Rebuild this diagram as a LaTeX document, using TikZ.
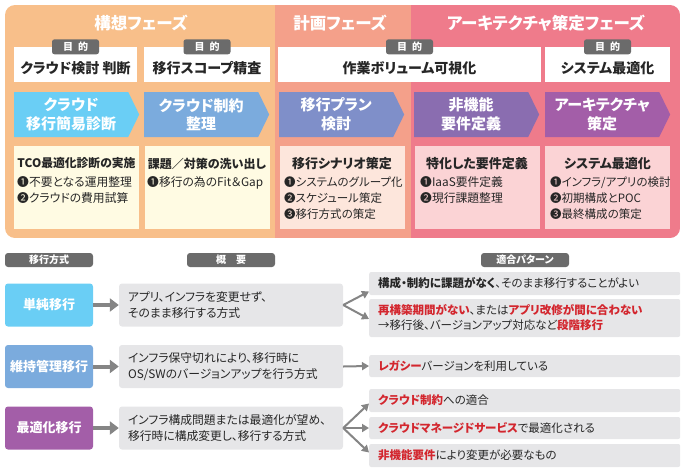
\documentclass[tikz,border=0pt]{standalone}
\usepackage{fontspec}
\setmainfont{Noto Sans CJK JP}[RawFeature=+palt]
\usetikzlibrary{arrows.meta, positioning, shapes.symbols}

\definecolor{kosoc}{HTML}{F8BF8A}
\definecolor{keikakuc}{HTML}{F4A08A}
\definecolor{archc}{HTML}{EF7B8B}
\definecolor{creamc}{HTML}{FFFBE3}
\definecolor{peachc}{HTML}{FDE6DC}
\definecolor{rosec}{HTML}{FBD3D5}
\definecolor{blue1}{HTML}{6ACEF5}
\definecolor{blue2}{HTML}{7BABDD}
\definecolor{blue3}{HTML}{7F8FC9}
\definecolor{violet4}{HTML}{8A6DB0}
\definecolor{violet5}{HTML}{A35EA8}
\definecolor{tagc}{HTML}{6B6B6B}
\definecolor{boxg}{HTML}{E6E6E8}
\definecolor{arrg}{HTML}{858585}
\definecolor{redc}{HTML}{D3262E}
\definecolor{inkc}{HTML}{262626}

\newcommand{\hlred}[1]{\textcolor{redc}{\bfseries #1}}

\begin{document}
\begin{tikzpicture}[x=1pt, y=-1pt,
    phase/.style={text=white, font=\fontsize{16.5}{18}\bfseries, inner sep=0pt},
    goal/.style={fill=white, minimum height=35pt, inner sep=0pt, text=inkc,
                 text height=17pt, text depth=0pt, font=\fontsize{14}{16}\bfseries},
    tag/.style={fill=tagc, rounded corners=2.5pt, minimum width=47pt, minimum height=15pt,
                inner sep=0pt, text=white, font=\fontsize{10}{12}\bfseries},
    chev/.style={signal, signal to=east, signal pointer angle=128, anchor=west,
                 minimum width=125pt, minimum height=45pt, inner sep=0pt,
                 text=white, align=center, font=\fontsize{15}{18.5}\bfseries},
    detail/.style={minimum width=125pt, minimum height=83pt, inner sep=0pt},
    dhead/.style={text=inkc, inner sep=0pt, font=\fontsize{13}{15}\bfseries},
    ditem/.style={text=inkc, inner sep=0pt, anchor=north west, align=left,
                  font=\fontsize{11.8}{16}\selectfont},
    head/.style={fill=tagc, rounded corners=3pt, minimum width=88pt, minimum height=14pt,
                 inner sep=0pt, text=white, font=\fontsize{10}{12}\bfseries},
    method/.style={rounded corners=3pt, minimum width=88pt, minimum height=43pt,
                   inner sep=0pt, text=white, font=\fontsize{13}{15}\bfseries},
    summ/.style={fill=boxg, rounded corners=3pt, minimum width=224pt, minimum height=43pt,
                 text width=206pt, inner xsep=9pt, inner ysep=0pt, align=left, text=inkc,
                 font=\fontsize{11.8}{15.5}\selectfont},
    pat/.style={fill=boxg, rounded corners=2pt, anchor=west, text width=293pt,
                inner xsep=9pt, inner ysep=0pt, align=left, text=inkc,
                font=\fontsize{11.5}{15}\selectfont},
    fat/.style={-{Triangle[length=9pt, width=13pt]}, draw=arrg, line width=4pt},
    arr/.style={-{Triangle[length=7pt, width=8pt]}, draw=arrg, line width=2pt}
]
\useasboundingbox (0,0) rectangle (684,471);

% Phase panel
\begin{scope}
\clip[rounded corners=10pt] (5,5) rectangle (680,238);
\fill[kosoc] (5,5) rectangle (275,238);
\fill[keikakuc] (275,5) rectangle (411,238);
\fill[archc] (411,5) rectangle (680,238);
\end{scope}

\node[phase] (ph1) at (141,23) {構想フェーズ};
\node[phase] (ph2) at (340,23) {計画フェーズ};
\node[phase] (ph3) at (546,23) {アーキテクチャ策定フェーズ};

% Goals
\node[goal, minimum width=123pt] (g1) at (75.5,64.5) {クラウド検討 判断};
\node[goal, minimum width=126pt] (g2) at (207,64.5) {移行スコープ精査};
\node[goal, minimum width=263pt] (g3) at (409.5,64.5) {作業ボリューム可視化};
\node[goal, minimum width=125pt] (g4) at (607.5,64.5) {システム最適化};
\node[tag] (t1) at (g1.north) {目\hspace{5pt}的};
\node[tag] (t2) at (g2.north) {目\hspace{5pt}的};
\node[tag] (t3) at (g3.north) {目\hspace{5pt}的};
\node[tag] (t4) at (g4.north) {目\hspace{5pt}的};

% Steps
\node[chev, fill=blue1] (c1) at (14,114.5) {クラウド\\移行簡易診断};
\node[chev, fill=blue2] (c2) at (144,114.5) {クラウド制約\\整理};
\node[chev, fill=blue3] (c3) at (279,114.5) {移行プラン\\検討};
\node[chev, fill=violet4] (c4) at (414,114.5) {非機能\\要件定義};
\node[chev, fill=violet5] (c5) at (545,114.5) {アーキテクチャ\\策定};

% Details
\node[detail, fill=creamc] (d1) at (76.5,187.5) {};
\node[detail, fill=creamc] (d2) at (207,187.5) {};
\node[detail, fill=peachc] (d3) at (342,187.5) {};
\node[detail, fill=rosec] (d4) at (477,187.5) {};
\node[detail, fill=rosec] (d5) at (607.5,187.5) {};

\node[dhead, font=\fontsize{11.8}{14}\bfseries] (d1h) at (76.5,163.5) {TCO最適化診断の実施};
\node[dhead, font=\fontsize{12}{14}\bfseries] (d2h) at (207,163.5) {課題／対策の洗い出し};
\node[dhead] (d3h) at (342,163.5) {移行シナリオ策定};
\node[dhead] (d4h) at (477,163.5) {特化した要件定義};
\node[dhead] (d5h) at (607.5,163.5) {システム最適化};

\node[ditem] (d1l) at (17,176.5) {❶不要となる運用整理\\❷クラウドの費用試算};
\node[ditem] (d2l) at (147,176.5) {❶移行の為のFit＆Gap};
\node[ditem, font=\fontsize{11.5}{16}\selectfont] (d3l) at (284,176.5) {❶システムのグループ化\\❷スケジュール策定\\❸移行方式の策定};
\node[ditem] (d4l) at (420,176.5) {❶IaaS要件定義\\❷現行課題整理};
\node[ditem, font=\fontsize{11.5}{16}\selectfont] (d5l) at (550,176.5) {❶インフラ/アプリの検討\\❷初期構成とPOC\\❸最終構成の策定};

% Column heads
\node[head] (hm) at (49,260) {移行方式};
\node[head] (hs) at (231,260) {概\hspace{1em}要};
\node[head] (hp) at (525,260) {適合パターン};

% Methods
\node[method, fill=blue1] (m1) at (49,305) {単純移行};
\node[method, fill=blue2] (m2) at (49,366.5) {維持管理移行};
\node[method, fill=violet5] (m3) at (49,428) {最適化移行};

\node[summ] (s1) at (231,305) {アプリ、インフラを変更せず、\\そのまま移行する方式};
\node[summ] (s2) at (231,366.5) {インフラ保守切れにより、移行時に\\OS/SWのバージョンアップを行う方式};
\node[summ] (s3) at (231,428) {インフラ構成問題または最適化が望め、\\移行時に構成変更し、移行する方式};

\draw[fat] (m1) -- (s1);
\draw[fat] (m2) -- (s2);
\draw[fat] (m3) -- (s3);

% Patterns
\node[pat, minimum height=23pt] (p1) at (369,283.5) {{\bfseries 構成・制約に課題がなく}、そのまま移行することがよい};
\node[pat, minimum height=38pt] (p2) at (369,318) {\hlred{再構築期間がない}、または\hlred{アプリ改修が間に合わない}\\→移行後、バージョンアップ対応など\hlred{段階移行}};
\node[pat, minimum height=22pt] (p3) at (369,366) {\hlred{レガシー}バージョンを利用している};
\node[pat, minimum height=23pt] (p4) at (369,400.5) {\hlred{クラウド制約}への適合};
\node[pat, minimum height=22pt] (p5) at (369,428) {\hlred{クラウドマネージドサービス}で最適化される};
\node[pat, minimum height=23pt] (p6) at (369,455.5) {\hlred{非機能要件}により変更が必要なもの};

\draw[arr] (s1.east) -- ([yshift=-8pt]p1.west);
\draw[arr] (s1.east) -- ([yshift=-1pt]p2.west);
\draw[arr] (s2.east) -- (p3.west);
\draw[arr] (s3.east) -- ([yshift=-3pt]p4.west);
\draw[arr] (s3.east) -- (p5.west);
\draw[arr] (s3.east) -- ([yshift=3pt]p6.west);

\end{tikzpicture}
\end{document}
